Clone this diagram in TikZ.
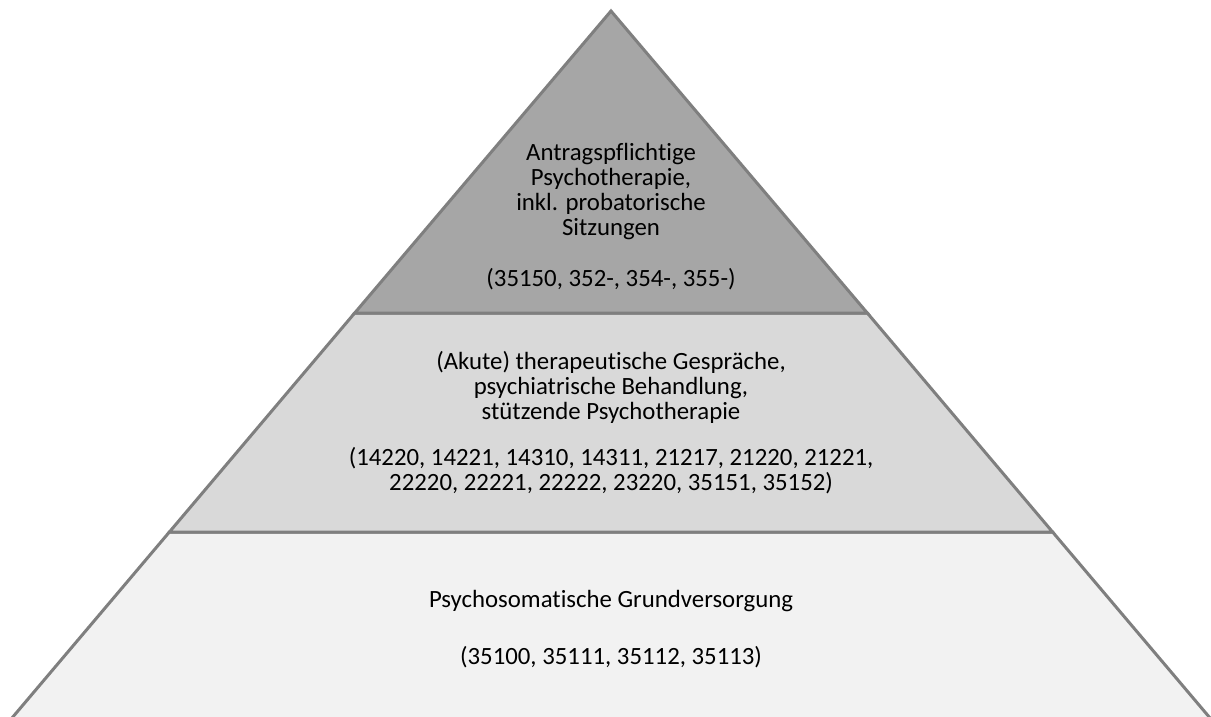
\documentclass[tikz,border=0pt]{standalone}
\usepackage{fontspec}
\setmainfont{Carlito}[Ligatures=NoCommon]
\definecolor{edgec}{HTML}{7F7F7F}
\definecolor{topc}{HTML}{A6A6A6}
\definecolor{midc}{HTML}{D9D9D9}
\definecolor{botc}{HTML}{F2F2F2}
\definecolor{txtc}{HTML}{000000}
\begin{document}
\begin{tikzpicture}[x=0.75pt,y=-0.75pt,
  tier/.style={draw=edgec, line width=2.25pt, line join=miter},
  lbl/.style={inner sep=0pt, align=center, text=txtc,
    font=\fontsize{18.6}{18.75}\selectfont}]
\useasboundingbox (0,0) rectangle (1211,717);
\clip (0,0) rectangle (1211,717);
\coordinate (A) at (611,11);
\coordinate (L1) at (354.7,313);
\coordinate (R1) at (867.3,313);
\coordinate (L2) at (169.4,532);
\coordinate (R2) at (1052.6,532);
\coordinate (L3) at (5.2,726);
\coordinate (R3) at (1216.8,726);
\filldraw[tier, fill=botc] (L2) -- (R2) -- (R3) -- (L3) -- cycle;
\filldraw[tier, fill=midc] (L1) -- (R1) -- (R2) -- (L2) -- cycle;
\filldraw[tier, fill=topc] (A) -- (R1) -- (L1) -- cycle;
\node[lbl, anchor=base] (t1) at (611,235) {Antragspflichtige\\Psychotherapie,\\inkl. probatorische\\Sitzungen};
\node[lbl, anchor=base] (t2) at (611,286) {(35150, 352-, 354-, 355-)};
\node[lbl, anchor=base] (m1) at (611,419) {(Akute) therapeutische Gespräche,\\psychiatrische Behandlung,\\stützende Psychotherapie};
\node[lbl, anchor=base] (m2) at (611,490) {(14220, 14221, 14310, 14311, 21217, 21220, 21221,\\22220, 22221, 22222, 23220, 35151, 35152)};
\node[lbl, anchor=base] (b1) at (611,607) {Psychosomatische Grundversorgung};
\node[lbl, anchor=base] (b2) at (611,664) {(35100, 35111, 35112, 35113)};
\end{tikzpicture}
\end{document}
